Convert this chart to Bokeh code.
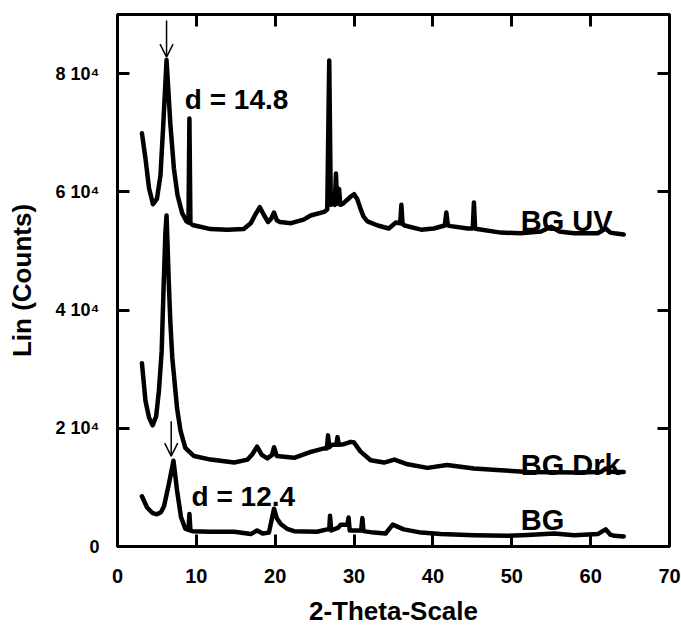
from bokeh.plotting import figure
from bokeh.models import Range1d, LinearAxis, FixedTicker, Arrow, OpenHead, ColumnDataSource
from bokeh.core.properties import value
from bokeh.embed import file_html
from bokeh.resources import INLINE

# ---- data (y in units of 10^4 counts) ----
uv_x = [3.1, 3.55, 4.0, 4.5, 5.0, 5.45, 5.8, 6.22, 6.7, 7.15, 7.6, 8.2, 8.75, 9.0, 9.12, 9.25, 9.5,
        10.5, 11.8, 13.9, 16.0, 16.9, 17.5, 18.05, 18.6, 19.1, 19.5, 19.85, 20.2, 20.6, 22.0, 23.6,
        24.5, 26.2, 26.6, 26.85, 27.05, 27.3, 27.55, 27.7, 27.85, 28.1, 28.25, 28.6, 29.0, 29.6, 30.0,
        30.4, 30.8, 31.2, 31.7, 33.0, 34.4, 35.3, 35.85, 36.0, 36.15, 36.4, 38.5, 40.1, 41.5, 41.7,
        41.9, 42.3, 44.4, 45.05, 45.2, 45.35, 45.6, 48.6, 51.1, 53.7, 55.0, 56.0, 57.9, 60.9, 61.9,
        62.5, 63.0, 64.2]
uv_y = [6.99, 6.56, 6.06, 5.79, 5.88, 6.28, 7.13, 8.23, 7.15, 6.40, 5.95, 5.64, 5.50, 5.48, 7.24, 5.47, 5.44,
        5.41, 5.37, 5.36, 5.37, 5.47, 5.62, 5.74, 5.60, 5.49, 5.55, 5.65, 5.52, 5.49, 5.47, 5.53,
        5.60, 5.66, 5.70, 8.22, 5.78, 5.80, 5.78, 6.31, 5.80, 6.05, 5.78, 5.80, 5.85, 5.92, 5.96,
        5.88, 5.72, 5.58, 5.50, 5.43, 5.38, 5.48, 5.47, 5.78, 5.46, 5.43, 5.36, 5.38, 5.43, 5.65,
        5.43, 5.42, 5.38, 5.38, 5.82, 5.38, 5.37, 5.31, 5.30, 5.33, 5.41, 5.33, 5.30, 5.30, 5.38,
        5.31, 5.30, 5.28]

drk_x = [3.1, 3.55, 4.0, 4.45, 4.9, 5.25, 5.6, 5.85, 6.08, 6.22, 6.35, 6.5, 6.7, 6.95, 7.15, 7.55, 8.0,
         8.6, 9.7, 11.8, 14.8, 16.5, 17.1, 17.7, 18.3, 19.0, 19.6, 19.85, 20.2, 22.4, 24.5, 26.2,
         26.55, 26.7, 26.85, 27.2, 27.75, 27.9, 28.05, 28.7, 29.6, 30.0, 30.8, 32.1, 33.8, 35.1,
         36.8, 39.3, 41.8, 45.2, 48.6, 52.0, 57.9, 61.3, 61.9, 62.5, 63.0, 64.2]
drk_y = [3.10, 2.46, 2.18, 2.05, 2.20, 2.63, 3.30, 4.40, 5.33, 5.60, 5.10, 4.48, 3.80, 3.19, 2.91, 2.34, 1.95,
         1.67, 1.53, 1.47, 1.42, 1.47, 1.56, 1.69, 1.55, 1.49, 1.55, 1.68, 1.53, 1.50, 1.60, 1.66,
         1.66, 1.88, 1.68, 1.72, 1.72, 1.85, 1.72, 1.73, 1.77, 1.76, 1.61, 1.46, 1.42, 1.47,
         1.39, 1.33, 1.38, 1.32, 1.29, 1.26, 1.25, 1.26, 1.32, 1.27, 1.26, 1.26]

bg_x = [3.1, 3.75, 4.4, 5.0, 5.5, 5.9, 6.5, 7.1, 7.55, 8.05, 8.6, 9.0, 9.12, 9.25, 9.5, 11.8, 14.8,
        16.9, 17.7, 18.4, 19.2, 19.85, 20.2, 20.7, 21.5, 22.4, 25.3, 26.6, 26.85, 26.95, 27.1, 28.0,
        28.3, 29.15, 29.3, 29.45, 30.0, 30.9, 31.05, 31.2, 32.5, 34.0, 34.9, 36.3, 38.5, 41.0, 45.2,
        49.5, 52.0, 55.4, 57.9, 60.9, 61.9, 62.5, 63.0, 64.2]
bg_y = [0.85, 0.66, 0.57, 0.545, 0.58, 0.68, 1.05, 1.45, 0.95, 0.50, 0.30, 0.28, 0.55, 0.27, 0.26, 0.25, 0.25,
        0.21, 0.27, 0.22, 0.235, 0.64, 0.48, 0.38, 0.30, 0.26, 0.25, 0.29, 0.29, 0.52, 0.27, 0.32,
        0.37, 0.37, 0.49, 0.27, 0.27, 0.27, 0.48, 0.26, 0.235, 0.22, 0.37, 0.29, 0.235, 0.21, 0.19,
        0.18, 0.195, 0.22, 0.19, 0.21, 0.29, 0.20, 0.18, 0.17]

x_ticks = [0, 10, 20, 30, 40, 50, 60, 70]
y_ticks = [0, 2, 4, 6, 8]
y_tick_labels = ["0", "2 10\u2074", "4 10\u2074", "6 10\u2074", "8 10\u2074"]

label_text = ["d = 14.8", "d = 12.4", "BG UV", "BG Drk", "BG"]
label_x = [8.54, 9.39, 51.14, 51.14, 51.14]
label_y = [7.57, 0.84, 5.51, 1.377, 0.449]
label_size = ["28px", "28px", "29px", "29px", "29px"]

arrow_x = [6.22, 6.81]
arrow_y_start = [8.90, 2.12]
arrow_y_end = [8.28, 1.53]

FONT = "Liberation Sans"

p = figure(width=681, height=628, x_range=Range1d(0, 70), y_range=Range1d(0, 9),
           output_backend="svg", toolbar_location=None,
           min_border_left=117, min_border_right=12, min_border_top=14, min_border_bottom=82,
           x_axis_label="2-Theta-Scale", y_axis_label="Lin (Counts)")
p.grid.visible = False
p.outline_line_color = "black"
p.outline_line_width = 3
p.background_fill_color = "white"
p.border_fill_color = "white"

bottom_axis = p.below[0]
left_axis = p.left[0]
bottom_axis.ticker = FixedTicker(ticks=x_ticks)
left_axis.ticker = FixedTicker(ticks=y_ticks)
left_axis.major_label_overrides = {t: s for t, s in zip(y_ticks, y_tick_labels)}

top_axis = LinearAxis(ticker=FixedTicker(ticks=x_ticks))
right_axis = LinearAxis(ticker=FixedTicker(ticks=y_ticks))
p.add_layout(top_axis, "above")
p.add_layout(right_axis, "right")

for ax in [bottom_axis, left_axis, top_axis, right_axis]:
    ax.axis_line_width = 3
    ax.axis_line_color = "black"
    ax.major_tick_line_width = 3
    ax.major_tick_line_color = "black"
    ax.major_tick_in = 12
    ax.major_tick_out = 0
    ax.minor_tick_line_color = None
    ax.major_label_text_font = FONT
    ax.major_label_text_font_style = "bold"
    ax.major_label_text_color = "black"
    ax.axis_label_text_font = FONT
    ax.axis_label_text_font_style = "bold"
    ax.axis_label_text_color = "black"
    ax.axis_label_text_font_size = "26px"

for ax in [top_axis, right_axis]:
    ax.major_label_text_font_size = "1px"
    ax.major_label_text_color = None
    ax.major_label_standoff = 0

bottom_axis.major_label_text_font_size = "20px"
bottom_axis.major_label_standoff = 22
bottom_axis.axis_label_standoff = 10
left_axis.major_label_text_font_size = "18px"
left_axis.major_label_standoff = 18
left_axis.axis_label_standoff = 16

for xs, ys in [(uv_x, uv_y), (drk_x, drk_y), (bg_x, bg_y)]:
    p.line(xs, ys, line_color="black", line_width=4.5, line_join="round", line_cap="round")

lab_src = ColumnDataSource(dict(x=label_x, y=label_y, text=label_text, size=label_size))
p.text(x="x", y="y", text="text", source=lab_src, text_font=value(FONT), text_font_style="bold",
       text_font_size="size", text_color="black", text_baseline="alphabetic", text_align="left")

for ax_, ys_, ye_ in zip(arrow_x, arrow_y_start, arrow_y_end):
    p.add_layout(Arrow(end=OpenHead(size=13, line_width=1.5, line_color="black"),
                       x_start=ax_, y_start=ys_, x_end=ax_, y_end=ye_,
                       line_width=1.5, line_color="black"))

open("out.html", "w").write(file_html(p, INLINE))
